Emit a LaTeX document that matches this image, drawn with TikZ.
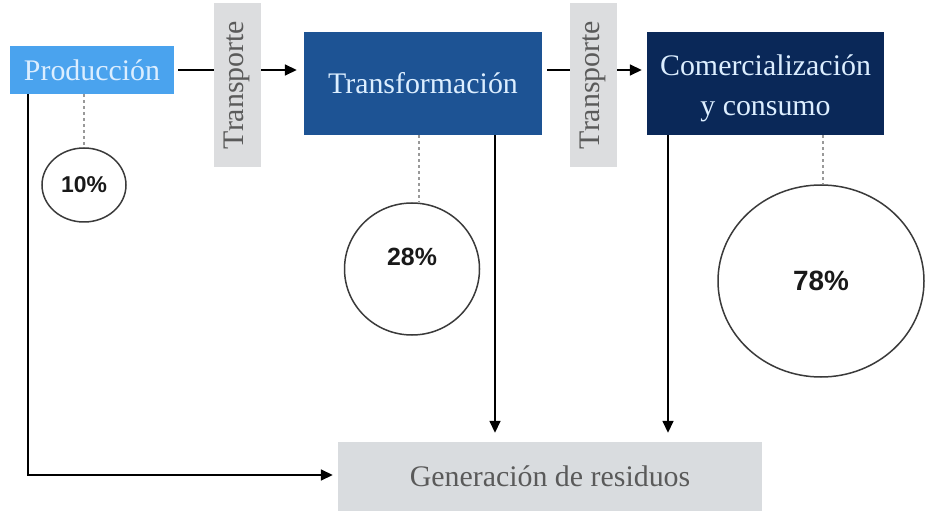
\documentclass[tikz,border=0pt]{standalone}
\usepackage{fontspec}
\setmainfont{Liberation Serif}
\newfontfamily\pctfont{Liberation Sans}
\usetikzlibrary{arrows.meta,shapes.geometric,calc}
\definecolor{prodblue}{HTML}{4AA3EE}
\definecolor{transblue}{HTML}{1D5394}
\definecolor{comblue}{HTML}{0A2858}
\definecolor{boxtext}{HTML}{DCEEFF}
\definecolor{tgray}{HTML}{DCDDDF}
\definecolor{ggray}{HTML}{D9DCDF}
\definecolor{gtext}{HTML}{5A5A5A}
\definecolor{circedge}{HTML}{3A3A3A}
\tikzset{
  mainbox/.style={draw=none, inner sep=0pt, text=boxtext, align=center,
    font=\fontsize{30}{40}\selectfont},
  transbox/.style={draw=none, fill=tgray, inner sep=0pt, minimum width=47bp,
    minimum height=164bp, text=gtext, font=\fontsize{30}{36}\selectfont},
  pct/.style={ellipse, draw=circedge, line width=1.5bp, fill=white, inner sep=0pt},
  pcttext/.style={font=\pctfont\bfseries, text=black!90},
  flow/.style={line width=1.6bp, -{Triangle[length=12bp,width=11bp]}},
  dashline/.style={draw=gray!80, line width=1.1bp, dash pattern=on 3bp off 3bp},
}
\begin{document}
\begin{tikzpicture}[x=1bp,y=-1bp]
\useasboundingbox (0,0) rectangle (926,515);
\fill[white] (0,0) rectangle (926,515);

% main boxes
\node[mainbox, fill=prodblue, minimum width=164bp, minimum height=48bp] (prod) at (92,70) {Producción};
\node[mainbox, fill=transblue, minimum width=238bp, minimum height=103bp] (trans) at (423,83.5) {Transformación};
\node[mainbox, fill=comblue, minimum width=237bp, minimum height=103bp] (com) at (765.5,83.5) {};
\node[mainbox] (comtext) at (765.5,88) {Comercialización\\y consumo};
\node[draw=none, fill=ggray, inner sep=0pt, minimum width=424bp, minimum height=69bp,
  text=gtext, font=\fontsize{30}{36}\selectfont] (gen) at (550,476.5) {Generación de residuos};

% circles
\node[pct, minimum width=84bp, minimum height=74bp, pcttext, font=\pctfont\bfseries\fontsize{23}{26}\selectfont] (c10) at (84,185) {10\%};
\node[pct, minimum width=135bp, minimum height=132bp] (c28) at (412,269) {};
\node[pcttext, font=\pctfont\bfseries\fontsize{25}{28}\selectfont] (t28) at (412,257) {28\%};
\node[pct, minimum width=206bp, minimum height=192bp, pcttext, font=\pctfont\bfseries\fontsize{28}{32}\selectfont] (c78) at (821,281) {78\%};

% horizontal flow arrows (drawn beneath the transport boxes)
\draw[flow, shorten <=4bp, shorten >=7bp] (prod.east) -- (prod.east -| trans.west);
\draw[flow, shorten <=5bp, shorten >=5bp] ([yshift=13.5bp]trans.east) -- ([yshift=13.5bp]com.west);

% transport boxes
\node[transbox] (tr1) at (237,85) {\rotatebox{90}{Transporte}};
\node[transbox] (tr2) at (593,85) {\rotatebox{90}{Transporte}};

% dashed leaders to circles
\draw[dashline] (c10.north |- prod.south) -- (c10.north);
\draw[dashline] ([xshift=-4bp]trans.south) -- ([xshift=-4bp]trans.south |- c28.north);
\draw[dashline] ([xshift=57.5bp]com.south) -- ([xshift=57.5bp]com.south |- c78.north);

% flows to waste generation
\draw[flow, shorten >=9bp] ([xshift=72bp]trans.south) -- ([xshift=72bp]trans.south |- gen.north);
\draw[flow, shorten >=9bp] ([xshift=-97.5bp]com.south) -- ([xshift=-97.5bp]com.south |- gen.north);
\draw[flow, shorten >=5bp] ([xshift=-64bp]prod.south) |- ([yshift=1.5bp]gen.west);
\end{tikzpicture}
\end{document}
